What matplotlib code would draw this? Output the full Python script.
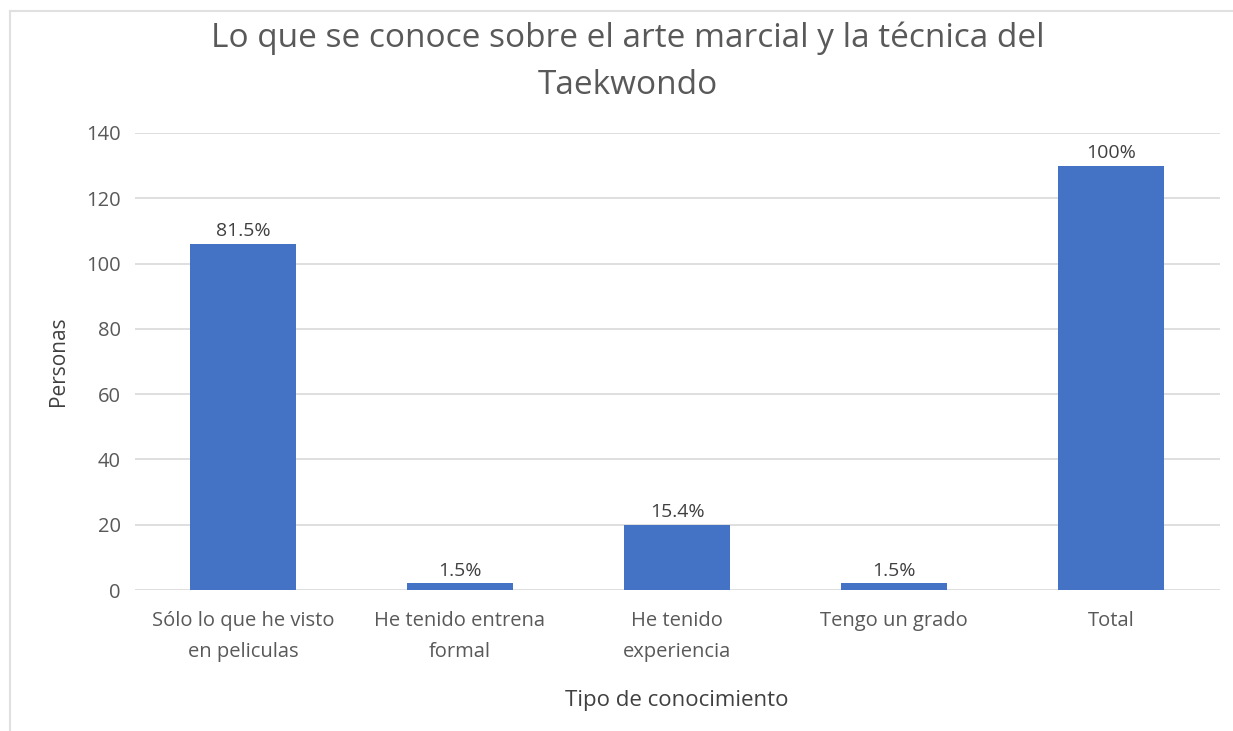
import matplotlib.pyplot as plt
from matplotlib.lines import Line2D

categorias = ["Sólo lo que he visto\nen peliculas", "He tenido entrena\nformal",
              "He tenido\nexperiencia", "Tengo un grado", "Total"]
personas = [106, 2, 20, 2, 130]
etiquetas = ["81.5%", "1.5%", "15.4%", "1.5%", "100%"]

plt.rcParams['font.family'] = ['Open Sans', 'DejaVu Sans']
gris = "#595959"

fig = plt.figure(figsize=(12.33, 7.31), dpi=100)
W, H = 1233, 731
ax = fig.add_axes([134.5 / W, 1 - 590 / H, (1219.5 - 134.5) / W, (590 - 133) / H])

x = range(len(categorias))
bars = ax.bar(x, personas, width=0.49, color="#4472C4", zorder=3)
for b, t in zip(bars, etiquetas):
    ax.text(b.get_x() + b.get_width() / 2, b.get_height() + 1.2, t,
            ha="center", va="bottom", fontsize=14, color="#404040")

ax.set_ylim(0, 140)
ax.set_xlim(-0.5, len(categorias) - 0.5)
ax.set_yticks(range(0, 141, 20))
ax.set_xticks(list(x))
ax.set_xticklabels(categorias, fontsize=14.5, color=gris, linespacing=1.75)
ax.tick_params(axis="y", labelsize=14.5, labelcolor=gris, length=0, pad=10)
ax.tick_params(axis="x", length=0, pad=15)
ax.grid(axis="y", color="#D9D9D9", linewidth=1.2, zorder=0)
for s in ax.spines.values():
    s.set_visible(False)

ax.set_ylabel("Personas", fontsize=15, color="#404040", labelpad=12)
ax.set_xlabel("Tipo de conocimiento", fontsize=16, color="#404040", labelpad=20)

fig.text(628 / W, 1 - 62 / H,
         "Lo que se conoce sobre el arte marcial y la técnica del\nTaekwondo",
         ha="center", va="center", fontsize=24, color=gris, linespacing=1.55)

# borde del grafico (solo arriba e izquierda)
fig.add_artist(Line2D([10 / W, 10 / W], [0, 1 - 11 / H], color="#E0E0E0", lw=1.5, transform=fig.transFigure))
fig.add_artist(Line2D([10 / W, 1], [1 - 11 / H, 1 - 11 / H], color="#E0E0E0", lw=1.5, transform=fig.transFigure))

fig.savefig("out.png", dpi=100)
